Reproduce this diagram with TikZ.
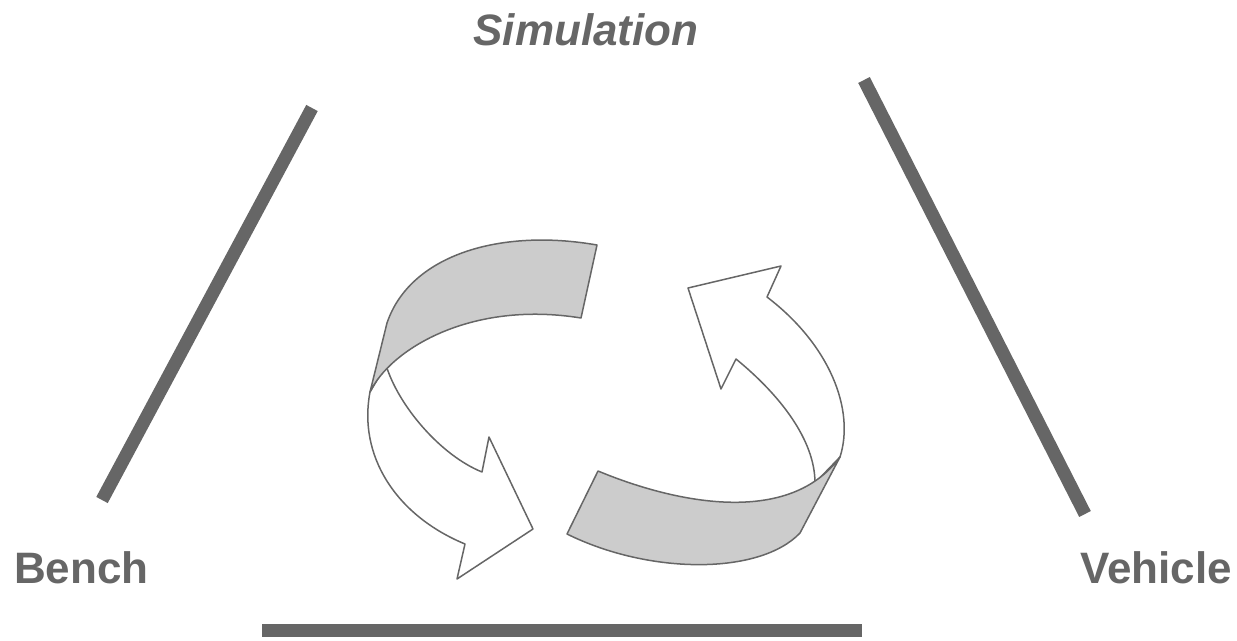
\documentclass[tikz,border=0pt]{standalone}
\usepackage{fontspec}
\setmainfont{Liberation Sans}
\definecolor{dgray}{HTML}{666666}
\definecolor{lgray}{HTML}{CCCCCC}
\tikzset{
  bar/.style={draw=dgray, line width=13pt},
  ribbon/.style={draw=dgray, line width=1.5pt, line join=round},
  label/.style={text=dgray, font=\fontsize{44}{50}\selectfont\bfseries, inner sep=0pt},
}
\begin{document}
\begin{tikzpicture}[x=1pt,y=-1pt]
\useasboundingbox (0,0) rectangle (1237,640);
% side bars
\coordinate (l1) at (312,108); \coordinate (l2) at (102,500);
\coordinate (r1) at (864,80);  \coordinate (r2) at (1085,514);
\coordinate (b1) at (262,630); \coordinate (b2) at (862,630);
\draw[bar] (l1) -- (l2);
\draw[bar] (r1) -- (r2);
\draw[bar] (b1) -- (b2);
% labels
\node[label, font=\fontsize{44}{50}\selectfont\bfseries\itshape, anchor=base] (sim) at (586,45) {Simulation};
\node[label, anchor=base west] (bench) at (14,583) {Bench};
\node[label, anchor=base east] (veh) at (1232,583) {Vehicle};
% left arrow: white front part
\draw[ribbon, fill=white] (370,392) .. controls (358,455) and (395,515) .. (465,544)
  -- (457,579) -- (533,529) -- (489,437) -- (482,472)
  .. controls (440,455) and (398,405) .. (386,365) -- cycle;
% left arrow: gray back band
\draw[ribbon, fill=lgray] (597,245) .. controls (500,228) and (410,255) .. (387,323)
  -- (370,392) .. controls (390,350) and (470,300) .. (581,318) -- cycle;
% right arrow: white front part
\draw[ribbon, fill=white] (840,457) .. controls (855,410) and (830,345) .. (767,297)
  -- (781,266) -- (688,288) -- (721,389) -- (736,359)
  .. controls (780,395) and (815,440) .. (815,483) -- cycle;
% right arrow: gray band
\draw[ribbon, fill=lgray] (598,471) .. controls (680,505) and (790,525) .. (840,457)
  -- (800,533) .. controls (760,575) and (650,575) .. (567,534) -- cycle;
\end{tikzpicture}
\end{document}
